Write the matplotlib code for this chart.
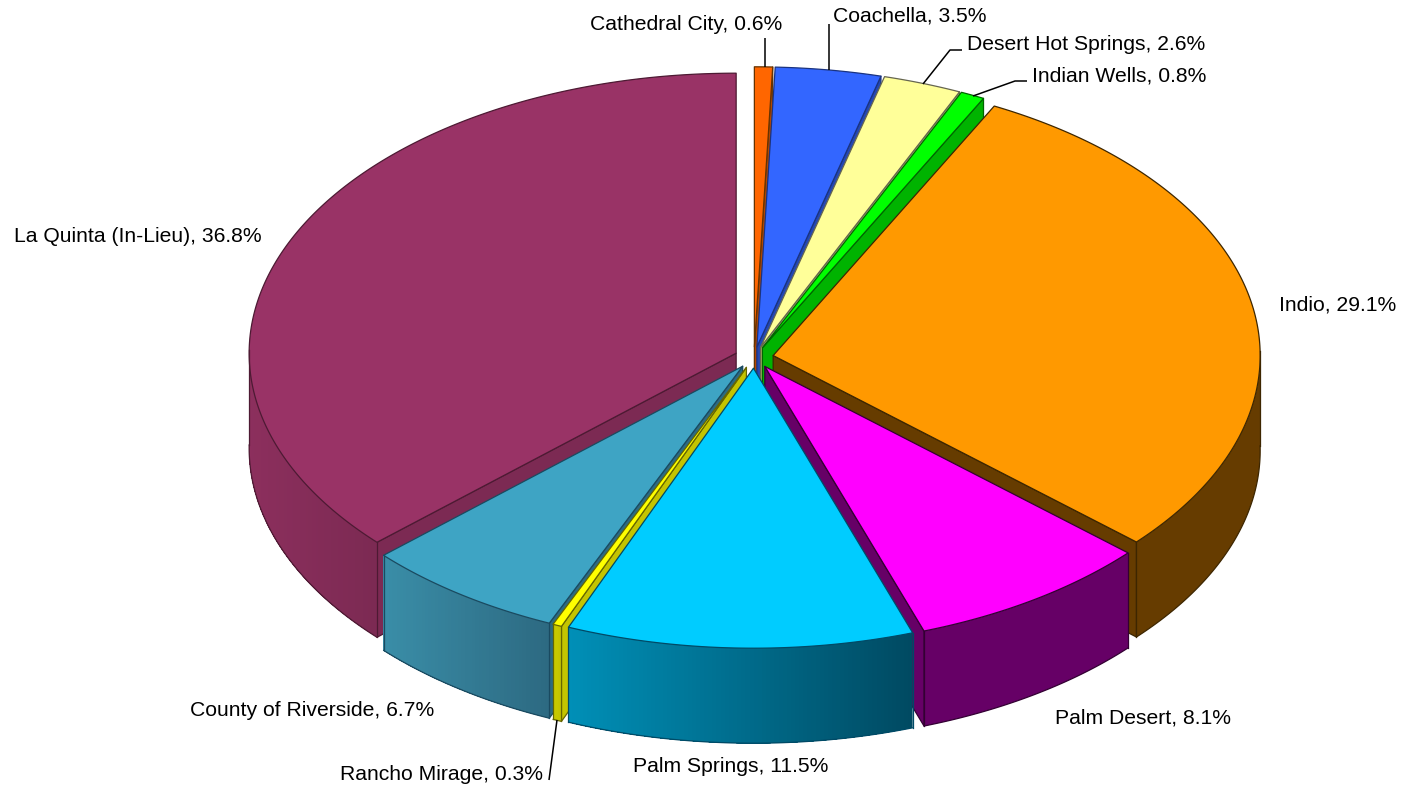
import numpy as np
import matplotlib
matplotlib.use("Agg")
import matplotlib.pyplot as plt
from matplotlib.patches import Polygon
from matplotlib.colors import to_rgb

categories = ["Cathedral City", "Coachella", "Desert Hot Springs", "Indian Wells", "Indio",
              "Palm Desert", "Palm Springs", "Rancho Mirage", "County of Riverside", "La Quinta (In-Lieu)"]
values = [0.6, 3.5, 2.6, 0.8, 29.1, 8.1, 11.5, 0.3, 6.7, 36.8]

top_colors = ["#ff6600", "#3366ff", "#ffff99", "#00ff00", "#ff9900",
              "#ff00ff", "#00ccff", "#ffff00", "#3ea4c4", "#993366"]
side_left = ["#b34700", "#2447b3", "#b3b36b", "#00b300", "#663c00",
             "#660066", "#0090b8", "#cccc00", "#3a8ea8", "#8c2f5d"]
side_right = ["#b34700", "#2447b3", "#b3b36b", "#00b300", "#663c00",
              "#660066", "#004a62", "#c4c400", "#2d6a82", "#7c2a53"]
edge_colors = ["#663300", "#1a3380", "#666650", "#006600", "#3d2600",
               "#330033", "#004a66", "#666600", "#1a4a60", "#4d1a33"]

label_x = [590, 833, 967, 1032, 1279, 1055, 633, 340, 190, 14]
label_y = [25, 16, 44, 76, 305, 718, 766, 774, 711, 236]
leaders = {
    "Cathedral City": ([765, 765], [38, 67]),
    "Coachella": ([829, 829], [24, 70]),
    "Desert Hot Springs": ([962, 950, 923], [50, 50, 84]),
    "Indian Wells": ([1027, 1015, 973], [81, 81, 96]),
    "Rancho Mirage": ([557, 549], [720, 780]),
}

W, H = 1403, 787
CX, CY = 754.0, 357.5
RX, RY = 487.0, 280.0
DX, DY = 19.5, 10.7
DEPTH = 95.0

fig = plt.figure(figsize=(W / 100, H / 100), dpi=100, facecolor="white")
ax = fig.add_axes([0, 0, 1, 1])
ax.set_xlim(0, W)
ax.set_ylim(H, 0)
ax.axis("off")


def mix(a, b, t):
    a, b = np.array(to_rgb(a)), np.array(to_rgb(b))
    return tuple(a + (b - a) * t)


def wall(x0, y0, a, side, edge):
    px, py = x0 + RX * np.sin(a), y0 - RY * np.cos(a)
    ax.add_patch(Polygon([(x0, y0), (px, py), (px, py + DEPTH), (x0, y0 + DEPTH)],
                         closed=True, facecolor=side, edgecolor=edge, lw=0.9, joinstyle="round"))


frac = np.array(values) / sum(values)
starts = 2 * np.pi * np.concatenate([[0], np.cumsum(frac)[:-1]])
ends = starts + 2 * np.pi * frac
mids = (starts + ends) / 2

for i in np.argsort(-np.cos(mids)):
    a0, a1 = starts[i], ends[i]
    x0 = CX + DX * np.sin(mids[i])
    y0 = CY - DY * np.cos(mids[i])
    th = np.linspace(a0, a1, max(int((a1 - a0) * 120), 4))
    rx = x0 + RX * np.sin(th)
    ry = y0 - RY * np.cos(th)
    edge = edge_colors[i]

    # Radial walls, only when they face the viewer
    if a0 > np.pi:
        wall(x0, y0, a0, side_right[i], edge)
    if a1 < np.pi:
        wall(x0, y0, a1, side_left[i], edge)

    # Outer rim, front half only, shaded from strips that overlap the next one
    vis = np.cos(th) < 0.02
    if vis.sum() >= 2:
        vx, vy = rx[vis], ry[vis]
        span = max(vx.max() - vx.min(), 1)
        n = len(vx)
        order = range(n - 1) if side_left[i] != side_right[i] else [0]
        for k in order:
            t = (vx[k] - vx.min()) / span
            c = mix(side_left[i], side_right[i], t)
            sx, sy = vx[k:], vy[k:]
            poly = list(zip(sx, sy)) + list(zip(sx[::-1], sy[::-1] + DEPTH))
            ax.add_patch(Polygon(poly, closed=True, facecolor=c, edgecolor="none"))
        ax.plot(vx, vy + DEPTH, color=edge, lw=0.9, solid_capstyle="round")
        for e in (0, -1):
            ax.plot([vx[e], vx[e]], [vy[e], vy[e] + DEPTH], color=edge, lw=0.9)

    # Top face
    pts = [(x0, y0)] + list(zip(rx, ry))
    ax.add_patch(Polygon(pts, closed=True, facecolor=top_colors[i], edgecolor=edge,
                         lw=0.9, joinstyle="round"))

for name, (lx, ly) in leaders.items():
    ax.plot(lx, ly, color="black", lw=1.1, solid_capstyle="butt")

for name, val, x, y in zip(categories, values, label_x, label_y):
    ax.text(x, y, f"{name}, {val:.1f}%", family="Liberation Sans", fontsize=15.25,
            ha="left", va="center", color="black")

fig.savefig("out.png", dpi=100, facecolor="white")
